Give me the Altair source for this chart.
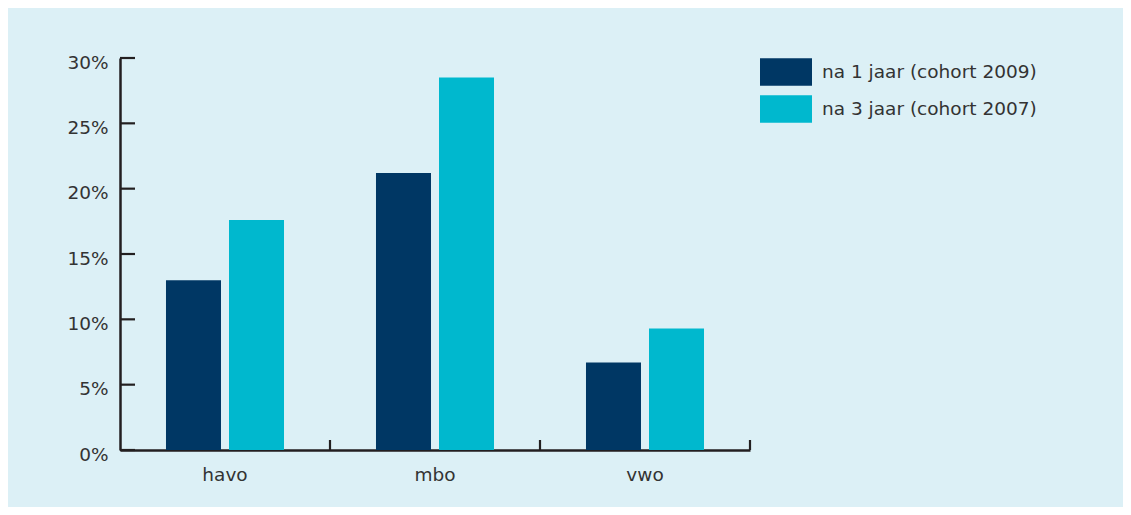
import altair as alt
import pandas as pd

categories = ["havo", "mbo", "vwo"]
series = ["na 1 jaar (cohort 2009)", "na 3 jaar (cohort 2007)"]
values_1jaar = [0.130, 0.212, 0.067]
values_3jaar = [0.176, 0.285, 0.093]
y_ticks = [0.0, 0.05, 0.10, 0.15, 0.20, 0.25, 0.30]
colors = ["#003764", "#00b8ce"]

rows = []
for i, c in enumerate(categories):
    rows.append({"cat": c, "series": series[0], "value": values_1jaar[i]})
    rows.append({"cat": c, "series": series[1], "value": values_3jaar[i]})
df = pd.DataFrame(rows)
df_cats = pd.DataFrame({"cat": categories})
df_yt = pd.DataFrame({"v": y_ticks})

W, H = 630, 392
FONT = "DejaVu Sans"
FS = 18.5
AXC = "#231f20"
TXC = "#333333"

yscale = alt.Scale(domain=[0, 0.30], nice=False)

bars = alt.Chart(df).mark_bar().encode(
    x=alt.X("cat:N", sort=categories, title=None,
            scale=alt.Scale(paddingInner=0.438, paddingOuter=0.219),
            axis=alt.Axis(domain=True, domainColor=AXC, domainWidth=2.5,
                          ticks=False, labelFontSize=FS, labelFont=FONT,
                          labelColor=TXC, labelPadding=15, labelAngle=0)),
    xOffset=alt.XOffset("series:N", sort=series,
                        scale=alt.Scale(paddingInner=0.127, paddingOuter=0)),
    y=alt.Y("value:Q", scale=yscale, title=None,
            axis=alt.Axis(values=y_ticks, format=".0%", domain=True, domainColor=AXC,
                          domainWidth=2.5, ticks=False, grid=False, labelFontSize=FS,
                          labelFont=FONT, labelColor=TXC, labelPadding=12,
                          labelOffset=4)),
    color=alt.Color("series:N", sort=series,
                    scale=alt.Scale(domain=series, range=colors),
                    legend=alt.Legend(title=None, orient="none", legendX=653, legendY=1,
                                      symbolType="M-2,-1.06H2V1.06H-2Z", symbolSize=676,
                                      symbolStrokeWidth=0, symbolOpacity=1,
                                      labelFontSize=FS, labelFont=FONT,
                                      labelColor=TXC, labelOffset=23,
                                      rowPadding=9, labelLimit=400)),
)

ytick_rules = alt.Chart(df_yt).mark_rule(color=AXC, strokeWidth=2.2).encode(
    y=alt.Y("v:Q", scale=yscale),
    x=alt.value(0),
    x2=alt.value(15),
)

xtick_rules = alt.Chart(df_cats).mark_rule(color=AXC, strokeWidth=2.2).encode(
    x=alt.X("cat:N", sort=categories, bandPosition=1,
            scale=alt.Scale(paddingInner=0, paddingOuter=0), axis=None),
    y=alt.value(H - 10),
    y2=alt.value(H),
)

chart = alt.layer(bars, ytick_rules, xtick_rules).resolve_scale(
    x="independent"
).properties(
    width=W, height=H,
    background="#dcf0f6",
    autosize=alt.AutoSizeParams(type="none"),
    padding={"left": 112, "top": 50, "right": 373, "bottom": 57},
).configure_view(stroke=None)

chart.save("out.html", embed_options={"renderer": "svg", "actions": False})
